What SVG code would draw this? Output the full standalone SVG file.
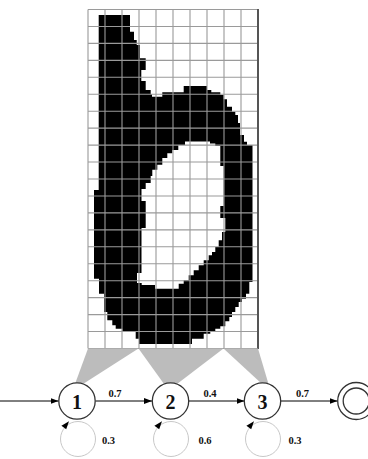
<svg xmlns="http://www.w3.org/2000/svg" width="368" height="459" viewBox="0 0 368 459">
<style>
.grid{fill:none;stroke:#9a9a9a;stroke-width:1.1}
.node{fill:#fff;stroke:#333;stroke-width:1.3}
.edge{fill:none;stroke:#000;stroke-width:1}
.loop{fill:none;stroke:#c8c8c8;stroke-width:1}
.wedge{fill:#bcbcbc}
.nl{font-family:"Liberation Serif",serif;font-weight:bold;font-size:20px;text-anchor:middle;fill:#111}
.el{font-family:"Liberation Serif",serif;font-weight:bold;font-size:10.5px;text-anchor:middle;fill:#111}
</style>
<defs>
<marker id="ah" markerUnits="userSpaceOnUse" markerWidth="10" markerHeight="8" refX="8" refY="3.5" orient="auto">
<path d="M0,0.5 L8,3.5 L0,6.5 Z" fill="#000"/>
</marker>
<path id="lah" d="M69,421.3 L66.2,429.2 L61.4,425.7 Z" fill="#000"/>
</defs>
<g id="bitmap">
<path fill="#000" fill-rule="evenodd" d="M98.7,15 H130 V31.7 H134 V40 H136.7 V45 H140 V58.3 H145.7 V70 H141.3 V81 H145.7 V90 H150.7 V94.3 H152 V96.7 H162.3 V92.3 H183.7 V86 H207 V90 H211.3 V92.3 H220.3 V95 H223.7 V99.3 H227 V106.7 H232 V111.7 H235.3 V115 H238 V123 H240 V135 H244 V141.7 H247 V145 H252.5 V282 H249.3 V293.7 H246 V298.7 H242 V302 H238.7 V307 H235.3 V312 H232 V317 H229.3 V321.3 H225.3 V326.3 H220.3 V328.7 H215.3 V331.3 H210.3 V333.7 H203.7 V338.7 H192 V344 H139 V338.7 H135.7 V332 H122.3 V328.7 H115.7 V325.3 H112.3 V320.3 H107.3 V312 H104 V293.7 H99 V278.7 H94 V190 H98.7 Z M185,141.5 H210 V143.5 H215.3 V146 H220.3 V166 H223.7 V206 H220.3 V218 H225.3 V232 H222 V240.3 H218.7 V247 H215.3 V252 H212 V255.3 H208.7 V260.3 H203.7 V265.3 H198.7 V270.3 H193.7 V275.3 H188.7 V280.3 H183.7 V283.7 H178.7 V288.7 H155 V285 H141.7 V283 H137 V273 H141.5 V228 H145.7 V201 H141.5 V189 H145.7 V183 H150.7 V176 H152.3 V169.7 H157.3 V164.7 H162.3 V158 H167.3 V153.3 H172.3 V150 H178.3 V145 H185 Z"/>
<path class="grid" d="M88,9.5 V348.5 M105,9.5 V348.5 M122,9.5 V348.5 M139,9.5 V348.5 M156,9.5 V348.5 M173,9.5 V348.5 M190,9.5 V348.5 M207,9.5 V348.5 M224,9.5 V348.5 M241,9.5 V348.5 M88,9.5 H258 M88,26.45 H258 M88,43.4 H258 M88,60.35 H258 M88,77.3 H258 M88,94.25 H258 M88,111.2 H258 M88,128.15 H258 M88,145.1 H258 M88,162.05 H258 M88,179 H258 M88,195.95 H258 M88,212.9 H258 M88,229.85 H258 M88,246.8 H258 M88,263.75 H258 M88,280.7 H258 M88,297.65 H258 M88,314.6 H258 M88,331.55 H258 M88,348.5 H258"/>
<path d="M258,9 V349" stroke="#555" stroke-width="2" fill="none"/>
</g>
<g id="wedges">
<polygon class="wedge" points="88,348.5 138.5,348.5 83,384 75,384"/>
<polygon class="wedge" points="138.5,348.5 223.5,348.5 177,384 164,384"/>
<polygon class="wedge" points="223.5,348.5 258,348.5 268.5,384 262,384"/>
</g>
<g id="connectors">
<path class="edge" d="M0,401 H58.5" marker-end="url(#ah)"/>
<path class="edge" d="M95.5,401 H152" marker-end="url(#ah)"/>
<path class="edge" d="M189,401 H244.5" marker-end="url(#ah)"/>
<path class="edge" d="M280.5,401 H337.5" marker-end="url(#ah)"/>
<circle class="loop" cx="78" cy="439" r="17.5"/>
<circle class="loop" cx="171" cy="439" r="17.5"/>
<circle class="loop" cx="263" cy="439" r="17.5"/>
<use href="#lah"/>
<use href="#lah" transform="translate(93,0)"/>
<use href="#lah" transform="translate(185,0)"/>
<text class="el" x="115" y="396.5">0.7</text>
<text class="el" x="210" y="396.5">0.4</text>
<text class="el" x="302.5" y="396.5">0.7</text>
<text class="el" x="108.5" y="443.5">0.3</text>
<text class="el" x="205" y="443.5">0.6</text>
<text class="el" x="295" y="443.5">0.3</text>
</g>
<g id="n1">
<circle class="node" cx="77" cy="401" r="18.2"/>
<text class="nl" x="77" y="408.5">1</text>
</g>
<g id="n2">
<circle class="node" cx="170.5" cy="401" r="18.2"/>
<text class="nl" x="170.5" y="408.5">2</text>
</g>
<g id="n3">
<circle class="node" cx="262.5" cy="401" r="18.2"/>
<text class="nl" x="262.5" y="408.5">3</text>
</g>
<g id="final">
<circle class="node" cx="356.2" cy="401" r="18.5"/>
<circle class="node" cx="356.2" cy="401" r="13"/>
</g>
</svg>
